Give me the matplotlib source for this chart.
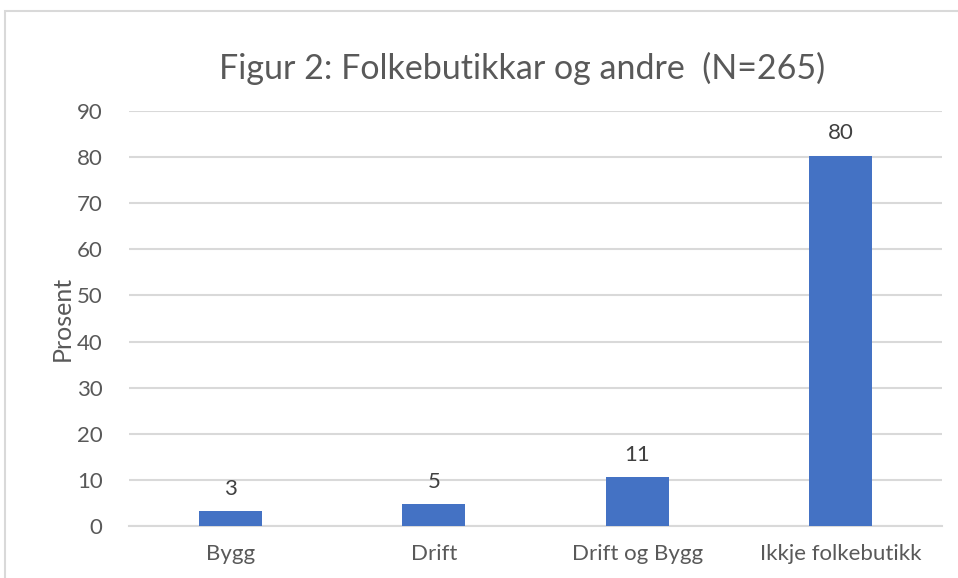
import matplotlib.pyplot as plt
from matplotlib.patches import Rectangle

categories = ["Bygg", "Drift", "Drift og Bygg", "Ikkje folkebutikk"]
values = [3.2, 4.7, 10.6, 80.3]
yticks = [0, 10, 20, 30, 40, 50, 60, 70, 80, 90]

text_color = "#595959"
grid_color = "#d9d9d9"
bar_color = "#4472c4"

plt.rcParams["font.family"] = ["Lato", "DejaVu Sans"]

fig = plt.figure(figsize=(9.58, 5.78), dpi=100)
ax = fig.add_axes([129 / 958, 1 - 526 / 578, (942 - 129) / 958, (526 - 111) / 578])

# outer chart border (cropped at right and bottom)
fig.patches.append(Rectangle((5 / 958, -0.1), 1.2, 1 - 11 / 578 + 0.1,
                             transform=fig.transFigure, fill=False,
                             edgecolor=grid_color, linewidth=1.5))

x = range(len(categories))
bars = ax.bar(x, values, width=0.31, color=bar_color, zorder=3)
for b, v in zip(bars, values):
    ax.annotate(f"{round(v)}", (b.get_x() + b.get_width() / 2, v),
                xytext=(0, 9), textcoords="offset points",
                ha="center", va="bottom", fontsize=16, color="#404040")

ax.set_xlim(-0.5, 3.5)
ax.set_ylim(0, 90)
ax.set_yticks(yticks)
ax.set_xticks(list(x))
ax.set_xticklabels(categories)
ax.tick_params(length=0, labelsize=16, labelcolor=text_color)
ax.tick_params(axis="x", pad=13)
ax.tick_params(axis="y", pad=19)
ax.yaxis.grid(True, color=grid_color, linewidth=1.5, zorder=0)
for s in ["top", "right", "left"]:
    ax.spines[s].set_visible(False)
ax.spines["bottom"].set_color(grid_color)
ax.spines["bottom"].set_linewidth(1.5)
ax.set_ylabel("Prosent", fontsize=18, color=text_color, va="center")
ax.yaxis.set_label_coords((62 - 129) / 813, 0.5)

fig.text(522 / 958, 1 - 68 / 578, "Figur 2: Folkebutikkar og andre  (N=265)",
         ha="center", va="center", fontsize=24.5, color=text_color)

fig.savefig("out.png", dpi=100)
